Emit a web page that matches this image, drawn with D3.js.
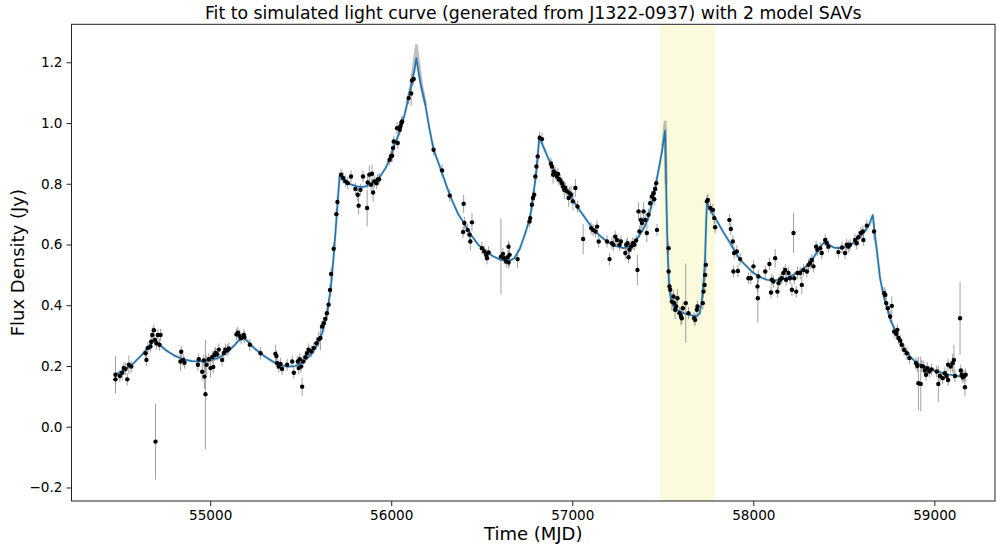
<!DOCTYPE html>
<html>
<head>
<meta charset="utf-8">
<script src="https://cdn.jsdelivr.net/npm/d3@7"></script>
<style>
  html, body { margin: 0; padding: 0; background: #fff; }
  svg { display: block; font-family: "DejaVu Sans", sans-serif; }
</style>
</head>
<body>
<svg id="chart" width="996" height="547"></svg>
<script>
// ---------------- data ----------------
const titleText = "Fit to simulated light curve (generated from J1322-0937) with 2 model SAVs";
const xLabel = "Time (MJD)";
const yLabel = "Flux Density (Jy)";
const xTicks = [55000, 56000, 57000, 58000, 59000];
const yTicks = [-0.2, 0.0, 0.2, 0.4, 0.6, 0.8, 1.0, 1.2];
const highlightSpan = [57486, 57789];

// observed light curve (MJD, flux in Jy, 1-sigma error)
const obsMJD = [
  54477,54477,54501,54514,54523,54532,54542,54551,54564,54643,54648,54656,54670,54674,54680,54689,54694,54698,54704,54711,54720,54726,
  54836,54840,54851,54858,54932,54937,54956,54965,54969,54974,54980,54992,55002,55011,55017,55024,55029,55039,55048,55066,55075,55084,55094,55103,
  55145,55153,55163,55171,55186,55189,55219,55278,55360,55366,55370,55379,55388,55397,55425,55453,55462,55484,55489,55495,55502,55508,55513,
  55526,55535,55544,55558,55572,55587,55600,55609,55618,55627,55636,55645,55654,55662,55668,55682,55697,55703,
  55723,55734,55747,55760,55778,55802,55815,55820,55830,55844,55867,55870,55879,55889,55894,55900,55907,55918,55925,55933,
  55991,55999,56005,56010,56014,56032,56036,56047,56050,56056,56060,56096,56110,56115,56124,56234,56281,56323,
  56400,56404,56397,56422,56433,56437,56446,56501,56514,56525,56529,56538,56606,56617,56624,56635,56643,56648,56648,56654,56698,
  56764,56768,56777,56783,56790,56796,56802,56809,56820,56833,56882,56888,56894,56897,56906,56915,56921,56926,56934,56943,56949,56956,56961,56971,56980,56985,56993,57004,57017,57029,
  57060,57104,57115,57128,57137,57146,57192,57206,57219,57228,57237,57247,57261,57269,57293,57298,57305,57311,57316,57324,57335,57342,57353,57360,
  57366,57371,57379,57385,57394,57403,57412,57421,57430,57440,57449,57458,57464,57468,57453,
  57532,57532,57537,57541,57550,57559,57563,57568,57574,57581,57592,57600,57605,57611,57627,57642,57673,57679,57688,57692,57721,57725,57731,57734,57738,
  57744,57749,57762,57777,57784,57789,57868,57876,57887,57894,57909,57890,57915,57927,57973,57986,58001,58023,58025,58028,
  58066,58089,58098,58102,58111,58121,58133,58139,58148,58157,58166,58176,58181,58194,58203,58213,58222,58226,58237,58244,58259,58268,58277,
  58296,58305,58314,58323,58332,58347,58354,58369,58378,58397,58406,58415,58470,58490,58507,58516,58525,58534,58562,58571,58580,58594,58605,58608,58627,58667,
  58723,58729,58734,58743,58756,58765,58778,58789,58796,58802,58811,58820,58833,58848,58862,
  58899,58906,58912,58925,58930,58939,58948,58954,58961,58972,58985,59013,59022,59031,59046,59058,59067,59076,59076,59090,59101,59108,59114,
  59142,59146,59151,59157,59164,59169,59173
];
const obsFlux = [
  0.171,0.156,0.167,0.178,0.193,0.190,0.156,0.204,0.198,0.242,0.220,0.259,0.264,0.280,0.302,0.318,0.286,-0.049,0.275,0.302,0.270,0.302,
  0.215,0.247,0.220,0.211,0.204,0.222,0.181,0.218,0.165,0.107,0.204,0.222,0.193,0.230,0.197,0.236,0.243,0.238,0.254,0.220,0.243,0.254,0.252,0.258,
  0.304,0.310,0.299,0.291,0.302,0.295,0.270,0.242,0.240,0.233,0.209,0.198,0.207,0.190,0.204,0.215,0.178,0.215,0.193,0.222,0.198,0.132,0.215,
  0.229,0.242,0.254,0.248,0.259,0.275,0.288,0.292,0.330,0.341,0.355,0.374,0.402,0.450,0.503,0.586,0.700,0.740,
  0.830,0.819,0.808,0.802,0.824,0.783,0.764,0.728,0.780,0.824,0.720,0.804,0.830,0.797,0.833,0.771,0.808,0.802,0.813,0.815,
  0.879,0.890,0.892,0.918,0.939,0.983,0.934,0.978,0.989,1.000,1.005,1.082,1.097,1.140,1.145,0.912,0.844,0.761,
  0.734,0.671,0.641,0.648,0.632,0.610,0.673,0.588,0.577,0.566,0.555,0.574,0.560,0.569,0.555,0.544,0.558,0.541,0.593,0.566,0.552,
  0.676,0.687,0.731,0.753,0.764,0.824,0.857,0.890,0.951,0.947,0.866,0.857,0.830,0.840,0.835,0.824,0.832,0.815,0.811,0.802,0.791,0.780,0.786,0.775,0.753,0.769,0.764,0.742,0.786,0.725,
  0.618,0.654,0.648,0.643,0.659,0.610,0.610,0.552,0.604,0.599,0.626,0.615,0.599,0.610,0.572,0.599,0.604,0.558,0.583,0.593,0.604,0.599,0.613,0.516,
  0.709,0.643,0.681,0.671,0.709,0.681,0.638,0.698,0.736,0.758,0.769,0.783,0.802,0.648,0.749,
  0.588,0.511,0.462,0.451,0.412,0.429,0.407,0.385,0.396,0.423,0.374,0.365,0.357,0.390,0.407,0.374,0.357,0.352,0.385,0.396,0.407,0.445,0.467,0.500,0.533,
  0.742,0.747,0.720,0.714,0.687,0.657,0.681,0.651,0.610,0.572,0.577,0.511,0.513,0.552,0.489,0.489,0.528,0.462,0.423,0.495,
  0.511,0.536,0.442,0.484,0.478,0.555,0.445,0.473,0.484,0.489,0.506,0.516,0.484,0.506,0.489,0.451,0.638,0.489,0.445,0.506,0.506,0.467,0.516,
  0.511,0.533,0.539,0.549,0.528,0.593,0.583,0.588,0.572,0.615,0.604,0.593,0.575,0.590,0.572,0.599,0.593,0.599,0.615,0.604,0.624,0.638,0.643,0.615,0.662,0.643,
  0.440,0.434,0.407,0.390,0.363,0.398,0.313,0.306,0.319,0.292,0.284,0.270,0.253,0.242,0.226,
  0.209,0.200,0.143,0.141,0.200,0.198,0.185,0.171,0.193,0.182,0.189,0.182,0.141,0.167,0.160,0.176,0.167,0.154,0.204,0.198,0.209,0.220,0.167,
  0.357,0.185,0.171,0.163,0.167,0.130,0.171
];
const obsErr = [
  0.062,0.020,0.020,0.025,0.020,0.020,0.020,0.030,0.020,0.020,0.020,0.020,0.020,0.020,0.025,0.020,0.020,0.125,0.020,0.020,0.020,0.020,
  0.030,0.020,0.020,0.020,0.020,0.020,0.030,0.020,0.040,0.180,0.030,0.020,0.030,0.020,0.020,0.020,0.020,0.020,0.020,0.020,0.020,0.020,0.020,0.020,
  0.020,0.020,0.020,0.020,0.020,0.020,0.020,0.020,0.030,0.020,0.020,0.020,0.020,0.020,0.020,0.020,0.020,0.020,0.020,0.020,0.020,0.030,0.020,
  0.020,0.020,0.020,0.020,0.020,0.020,0.025,0.040,0.020,0.020,0.020,0.020,0.020,0.020,0.020,0.020,0.020,0.020,
  0.020,0.020,0.020,0.020,0.020,0.020,0.020,0.030,0.020,0.020,0.060,0.020,0.030,0.020,0.030,0.030,0.020,0.020,0.020,0.020,
  0.020,0.020,0.020,0.020,0.020,0.020,0.020,0.020,0.020,0.020,0.020,0.020,0.040,0.020,0.020,0.020,0.020,0.020,
  0.030,0.020,0.020,0.020,0.020,0.030,0.030,0.020,0.020,0.020,0.020,0.020,0.125,0.020,0.020,0.020,0.020,0.020,0.020,0.040,0.030,
  0.020,0.020,0.020,0.020,0.020,0.020,0.020,0.020,0.020,0.020,0.020,0.020,0.030,0.020,0.020,0.020,0.020,0.020,0.020,0.020,0.020,0.030,0.020,0.020,0.030,0.020,0.030,0.030,0.030,0.020,
  0.050,0.020,0.020,0.020,0.020,0.020,0.020,0.020,0.020,0.020,0.020,0.020,0.020,0.020,0.020,0.020,0.020,0.020,0.020,0.020,0.020,0.020,0.020,0.050,
  0.030,0.020,0.030,0.020,0.030,0.020,0.030,0.020,0.020,0.020,0.020,0.020,0.020,0.020,0.020,
  0.020,0.020,0.020,0.020,0.030,0.020,0.020,0.030,0.020,0.030,0.020,0.030,0.020,0.020,0.130,0.020,0.020,0.020,0.020,0.020,0.020,0.020,0.020,0.020,0.020,
  0.020,0.020,0.020,0.020,0.020,0.020,0.020,0.020,0.020,0.020,0.020,0.020,0.020,0.020,0.020,0.020,0.020,0.020,0.080,0.020,
  0.020,0.020,0.020,0.020,0.020,0.030,0.020,0.020,0.020,0.020,0.020,0.020,0.020,0.020,0.020,0.020,0.066,0.020,0.020,0.020,0.020,0.030,0.020,
  0.020,0.020,0.020,0.020,0.020,0.020,0.020,0.020,0.020,0.020,0.020,0.020,0.020,0.020,0.020,0.020,0.020,0.020,0.020,0.020,0.020,0.020,0.020,0.020,0.020,0.030,
  0.020,0.020,0.020,0.020,0.020,0.030,0.020,0.020,0.020,0.020,0.020,0.020,0.020,0.020,0.020,
  0.020,0.020,0.088,0.090,0.020,0.020,0.020,0.020,0.020,0.020,0.020,0.020,0.060,0.020,0.020,0.020,0.020,0.020,0.020,0.020,0.030,0.050,0.020,
  0.120,0.020,0.020,0.020,0.020,0.030,0.020
];

// best-fit model curve (2 SAVs)
const modelMJD = [
  54470,54520,54570,54620,54660,54693,54720,54760,54800,54850,54900,54950,55000,55050,55100,55140,55177,55200,55250,55300,55350,55400,55430,55470,
  55500,55530,55560,55590,55620,55645,55665,55682,55697,55708,55715,55740,55780,55820,55850,55880,55910,55940,55970,55995,56020,56050,56075,56096,
  56115,56130,56139,56150,56165,56188,56210,56234,56260,56281,56310,56340,56370,56400,56440,56480,56520,56560,56603,56648,56680,56710,56741,56768,
  56786,56800,56812,56818,56840,56870,56897,56930,56971,57010,57044,57080,57118,57160,57192,57240,57283,57320,57357,57390,57412,57435,57455,57475,
  57495,57513,57520,57526,57535,57545,57559,57585,57614,57650,57688,57705,57716,57726,57734,57740,57744,57770,57799,57835,57872,57900,57927,57960,
  58001,58040,58075,58110,58148,58185,58222,58260,58296,58330,58355,58380,58397,58420,58445,58470,58500,58535,58570,58608,58640,58660,58670,58682,
  58700,58720,58737,58760,58790,58829,58870,58903,58950,59013,59080,59142,59175
];
const modelFlux = [
  0.170,0.185,0.205,0.235,0.262,0.285,0.270,0.250,0.235,0.222,0.216,0.215,0.218,0.228,0.248,0.272,0.298,0.285,0.255,0.232,0.213,0.201,0.198,0.200,
  0.208,0.222,0.240,0.268,0.310,0.370,0.450,0.560,0.680,0.770,0.826,0.810,0.797,0.790,0.790,0.796,0.808,0.825,0.853,0.886,0.930,0.978,1.030,1.085,
  1.135,1.180,1.214,1.170,1.120,1.062,0.985,0.912,0.870,0.835,0.785,0.740,0.700,0.672,0.632,0.600,0.578,0.562,0.550,0.545,0.555,0.585,0.638,0.692,
  0.769,0.830,0.910,0.958,0.922,0.880,0.850,0.815,0.780,0.740,0.710,0.680,0.648,0.625,0.610,0.595,0.588,0.595,0.618,0.648,0.675,0.720,0.775,0.840,
  0.905,0.975,0.750,0.590,0.462,0.420,0.396,0.382,0.374,0.368,0.363,0.375,0.418,0.480,0.560,0.680,0.736,0.705,0.678,0.640,0.605,0.575,0.550,0.530,
  0.506,0.492,0.484,0.482,0.484,0.490,0.500,0.513,0.530,0.555,0.578,0.600,0.610,0.598,0.590,0.588,0.590,0.596,0.615,0.638,0.665,0.697,0.640,0.582,
  0.490,0.430,0.396,0.350,0.305,0.262,0.228,0.210,0.195,0.182,0.172,0.166,0.163
];

// upper envelope of the posterior model samples (grey) near the flare peaks
const spreadMJD = [56090,56110,56125,56139,56152,56168,56190];
const spreadFlux = [1.068,1.125,1.190,1.255,1.195,1.125,1.058];
const spread2MJD = [57500,57513,57518];
const spread2Flux = [0.925,1.003,0.800];

// ---------------- drawing ----------------
const svg = d3.select("#chart");
const M = { left: 71.5, right: 995, top: 24.3, bottom: 501 };

const x = d3.scaleLinear().domain([54234, 59335]).range([M.left, M.right]);
const y = d3.scaleLinear().domain([-0.2445, 1.325]).range([M.bottom, M.top]);

svg.append("defs").append("clipPath").attr("id", "clip")
  .append("rect").attr("x", M.left).attr("y", M.top)
  .attr("width", M.right - M.left).attr("height", M.bottom - M.top);

const plot = svg.append("g").attr("clip-path", "url(#clip)");

// highlighted interval
plot.append("rect")
  .attr("x", x(highlightSpan[0])).attr("y", M.top)
  .attr("width", x(highlightSpan[1]) - x(highlightSpan[0]))
  .attr("height", M.bottom - M.top)
  .attr("fill", "#fafadc");

const line = d3.line().x(d => x(d[0])).y(d => y(d[1]));
const model = modelMJD.map((m, i) => [m, modelFlux[i]]);

// grey sample spread (faint halo + peak envelopes)
plot.append("path").datum(model).attr("d", line)
  .attr("fill", "none").attr("stroke", "#a0a0a0").attr("stroke-opacity", 0.3)
  .attr("stroke-width", 3).attr("stroke-linejoin", "round");
[[spreadMJD, spreadFlux], [spread2MJD, spread2Flux]].forEach(([ms, fs]) => {
  plot.append("path").datum(ms.map((m, i) => [m, fs[i]])).attr("d", line)
    .attr("fill", "none").attr("stroke", "#8c8c8c").attr("stroke-opacity", 0.55)
    .attr("stroke-width", 3).attr("stroke-linejoin", "round");
});

// error bars
const obs = obsMJD.map((m, i) => ({ t: m, f: obsFlux[i], e: obsErr[i] }));
plot.append("g").selectAll("line").data(obs).join("line")
  .attr("x1", d => x(d.t)).attr("x2", d => x(d.t))
  .attr("y1", d => y(d.f - d.e)).attr("y2", d => y(d.f + d.e))
  .attr("stroke", "#808080").attr("stroke-opacity", 0.75).attr("stroke-width", 1);

// best-fit model
plot.append("path").datum(model).attr("d", line)
  .attr("fill", "none").attr("stroke", "#1f77b4").attr("stroke-width", 1.7)
  .attr("stroke-linejoin", "round");

// observed points
plot.append("g").selectAll("circle").data(obs).join("circle")
  .attr("cx", d => x(d.t)).attr("cy", d => y(d.f)).attr("r", 2.2)
  .attr("fill", "#000");

// axes
const xAxis = d3.axisBottom(x).tickValues(xTicks).tickFormat(d3.format("d")).tickSize(5).tickPadding(4);
const yAxis = d3.axisLeft(y).tickValues(yTicks).tickFormat(d3.format(".1f")).tickSize(5).tickPadding(4);

const gx = svg.append("g").attr("transform", `translate(0,${M.bottom})`).call(xAxis);
const gy = svg.append("g").attr("transform", `translate(${M.left},0)`).call(yAxis);
[gx, gy].forEach(g => {
  g.select(".domain").remove();
  g.selectAll(".tick line").attr("stroke", "#222").attr("stroke-width", 1);
  g.selectAll(".tick text").attr("fill", "#000").style("font-size", "13.6px")
    .style("font-family", "'DejaVu Sans', sans-serif");
});

// frame
svg.append("rect").attr("x", M.left).attr("y", M.top)
  .attr("width", M.right - M.left).attr("height", M.bottom - M.top)
  .attr("fill", "none").attr("stroke", "#222").attr("stroke-width", 1);

// labels
svg.append("text").attr("x", (M.left + M.right) / 2).attr("y", 19)
  .attr("text-anchor", "middle").style("font-size", "17.3px").text(titleText);
svg.append("text").attr("x", (M.left + M.right) / 2).attr("y", 540)
  .attr("text-anchor", "middle").style("font-size", "18px").text(xLabel);
svg.append("text").attr("transform", `translate(24,${(M.top + M.bottom) / 2}) rotate(-90)`)
  .attr("text-anchor", "middle").style("font-size", "18px").text(yLabel);
</script>
</body>
</html>
